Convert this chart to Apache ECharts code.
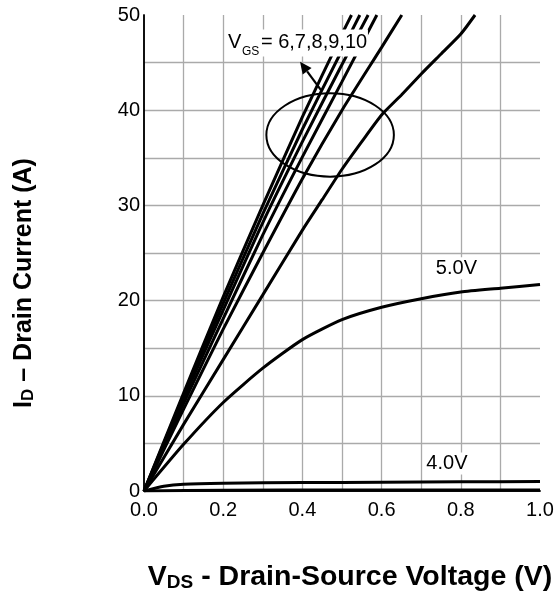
<!DOCTYPE html>
<html><head><meta charset="utf-8">
<script src="https://cdn.jsdelivr.net/npm/echarts@6/dist/echarts.min.js"></script>
<style>html,body{margin:0;padding:0;background:#fff}#c{width:559px;height:593px}</style>
</head><body><div id="c"></div>
<script>
// ---- data ----
const xTickValues = [0, 0.2, 0.4, 0.6, 0.8, 1.0];
const yTickValues = [0, 10, 20, 30, 40, 50];

const vgs10_vds = [0, 0.1, 0.2, 0.3, 0.4, 0.5, 0.524];
const vgs10_id  = [0, 10.3, 20.4, 30.0, 39.3, 48.0, 50];
const vgs9_vds  = [0, 0.1, 0.2, 0.3, 0.4, 0.5, 0.545];
const vgs9_id   = [0, 10.0, 19.7, 29.1, 38.0, 46.3, 50];
const vgs8_vds  = [0, 0.1, 0.2, 0.3, 0.4, 0.5, 0.566];
const vgs8_id   = [0, 9.7, 19.0, 28.2, 36.7, 44.8, 50];
const vgs7_vds  = [0, 0.1, 0.2, 0.3, 0.4, 0.5, 0.588];
const vgs7_id   = [0, 9.2, 18.1, 26.9, 35.1, 43.0, 50];
const vgs6_vds  = [0, 0.1, 0.2, 0.3, 0.4, 0.5, 0.6, 0.651];
const vgs6_id   = [0, 8.6, 17.0, 25.0, 32.8, 40.0, 46.6, 50];
const vgsMid_vds = [0, 0.1, 0.2, 0.3, 0.4, 0.45, 0.5, 0.55, 0.6, 0.65, 0.7, 0.75, 0.8, 0.836];
const vgsMid_id  = [0, 7.0, 13.8, 20.6, 27.4, 30.6, 33.8, 36.7, 39.5, 41.6, 43.8, 45.9, 48.0, 50];
const vgs5_vds  = [0, 0.1, 0.2, 0.3, 0.4, 0.5, 0.6, 0.7, 0.8, 0.9, 1.0];
const vgs5_id   = [0, 4.9, 9.3, 12.9, 15.9, 18.0, 19.3, 20.2, 20.9, 21.3, 21.7];
const vgs4_vds  = [0, 0.05, 0.1, 0.2, 0.4, 0.6, 0.8, 1.0];
const vgs4_id   = [0, 0.5, 0.72, 0.82, 0.88, 0.93, 0.97, 1.0];
const vgs3_vds  = [0, 0.2, 0.5, 1.0];
const vgs3_id   = [0, 0.08, 0.1, 0.1];

// annotation anchors (data coordinates)
const ann = {
  ellipse: { cx: 0.470, cy: 37.4, rx: 0.161, ry: 4.38 },
  arrowTail: [0.447, 42.1], arrowHead: [0.394, 45.1],
  vgsLabel: [0.212, 47.1],
  label5V: [0.789, 23.4], label4V: [0.765, 2.9]
};

const zip = (xs, ys) => xs.map((x, i) => [x, ys[i]]);
const curves = [
  ['10V', vgs10_vds, vgs10_id], ['9V', vgs9_vds, vgs9_id], ['8V', vgs8_vds, vgs8_id],
  ['7V', vgs7_vds, vgs7_id], ['6V', vgs6_vds, vgs6_id], ['mid', vgsMid_vds, vgsMid_id],
  ['5V', vgs5_vds, vgs5_id], ['4V', vgs4_vds, vgs4_id], ['3V', vgs3_vds, vgs3_id]
];

const FONT = 'Liberation Sans, Arial, sans-serif';
const chart = echarts.init(document.getElementById('c'), null, { renderer: 'canvas' });
const near = (v, arr) => arr.some(t => Math.abs(t - v) < 1e-6);

chart.setOption({
  animation: false,
  backgroundColor: '#fff',
  grid: { left: 144, right: 19, top: 15, bottom: 102, show: false },
  xAxis: [{
    type: 'value', min: 0, max: 1, interval: 0.1,
    axisLine: { show: true, lineStyle: { color: '#000', width: 1.5 } },
    axisTick: { show: false },
    axisLabel: { color: '#000', fontFamily: FONT, fontSize: 20, margin: 9,
      formatter: v => near(v, xTickValues) ? v.toFixed(1) : '' },
    splitLine: { show: true, showMinLine: false, showMaxLine: false, lineStyle: { color: '#aaa', width: 1.3 } }
  }, {
    type: 'value', min: 0, max: 1, position: 'top',
    axisLine: { show: true, lineStyle: { color: '#000', width: 1.5 } },
    axisTick: { show: false }, axisLabel: { show: false }, splitLine: { show: false }
  }],
  yAxis: [{
    type: 'value', min: 0, max: 50, interval: 5,
    axisLine: { show: true, lineStyle: { color: '#000', width: 1.5 } },
    axisTick: { show: false },
    axisLabel: { color: '#000', fontFamily: FONT, fontSize: 20, margin: 4,
      formatter: v => near(v, yTickValues) ? String(v) : '' },
    splitLine: { show: true, showMinLine: false, showMaxLine: false, lineStyle: { color: '#aaa', width: 1.3 } }
  }, {
    type: 'value', min: 0, max: 50, position: 'right',
    axisLine: { show: true, lineStyle: { color: '#000', width: 1.5 } },
    axisTick: { show: false }, axisLabel: { show: false }, splitLine: { show: false }
  }],
  series: curves.map(([name, xs, ys]) => ({
    name, type: 'line', data: zip(xs, ys), showSymbol: false, smooth: 0.2,
    clip: true, lineStyle: { color: '#000', width: 3 }, z: 5
  }))
});

// ---- annotations ----
const px = p => chart.convertToPixel({ gridIndex: 0 }, p);
const e = ann.ellipse;
const c0 = px([e.cx, e.cy]);
const cx1 = px([e.cx + e.rx, e.cy]);
const cy1 = px([e.cx, e.cy + e.ry]);
const tail = px(ann.arrowTail), head = px(ann.arrowHead);
const ang = Math.atan2(head[1] - tail[1], head[0] - tail[0]);
const L = 12, W = 5.5;
const base = [head[0] - L * Math.cos(ang), head[1] - L * Math.sin(ang)];
const arrowPts = [head,
  [base[0] + W * Math.sin(ang), base[1] - W * Math.cos(ang)],
  [base[0] - W * Math.sin(ang), base[1] + W * Math.cos(ang)]];
const vg = px(ann.vgsLabel), l5 = px(ann.label5V), l4 = px(ann.label4V);
const txt = (s, size) => ({ text: s, font: size + 'px ' + FONT, fill: '#000',
  align: 'left', verticalAlign: 'middle', textAlign: 'left', textVerticalAlign: 'middle' });

chart.setOption({
  graphic: { elements: [
    { type: 'ellipse', z: 100, shape: { cx: c0[0], cy: c0[1], rx: cx1[0] - c0[0], ry: c0[1] - cy1[1] },
      style: { fill: 'none', stroke: '#000', lineWidth: 2 } },
    { type: 'line', z: 100, shape: { x1: tail[0], y1: tail[1], x2: base[0], y2: base[1] },
      style: { stroke: '#000', lineWidth: 2.2 } },
    { type: 'polygon', z: 100, shape: { points: arrowPts }, style: { fill: '#000' } },
    { type: 'rect', z: 101, shape: { x: vg[0] - 3, y: vg[1] - 13, width: 143, height: 27 }, style: { fill: '#fff' } },
    { type: 'text', z: 102, x: vg[0], y: vg[1], style: txt('V', 20) },
    { type: 'text', z: 102, x: vg[0] + 14, y: vg[1] + 9, style: txt('GS', 12) },
    { type: 'text', z: 102, x: vg[0] + 33, y: vg[1], style: txt('= 6,7,8,9,10', 20) },
    { type: 'text', z: 102, x: l5[0], y: l5[1], style: { text: '5.0V', font: '20px ' + FONT, fill: '#000',
      align: 'center', verticalAlign: 'middle', textAlign: 'center', textVerticalAlign: 'middle',
      backgroundColor: '#fff', padding: [1, 2, 1, 2] } },
    { type: 'text', z: 102, x: l4[0], y: l4[1], style: { text: '4.0V', font: '20px ' + FONT, fill: '#000',
      align: 'center', verticalAlign: 'middle', textAlign: 'center', textVerticalAlign: 'middle',
      backgroundColor: '#fff', padding: [1, 2, 1, 2] } },
    { type: 'text', z: 102, x: 350, y: 576, style: {
      text: '{m|V}{s|DS}{m| - Drain-Source Voltage (V)}', align: 'center', verticalAlign: 'middle',
      textAlign: 'center', textVerticalAlign: 'middle',
      rich: { m: { font: 'bold 28.5px ' + FONT, fill: '#000', lineHeight: 32, verticalAlign: 'bottom' },
              s: { font: 'bold 19px ' + FONT, fill: '#000', lineHeight: 32, verticalAlign: 'bottom' } } } },
    { type: 'text', z: 102, x: 22, y: 283, rotation: Math.PI / 2, style: {
      text: '{m|I}{s|D}{m| – Drain Current (A)}', align: 'center', verticalAlign: 'middle',
      textAlign: 'center', textVerticalAlign: 'middle',
      rich: { m: { font: 'bold 25px ' + FONT, fill: '#000', lineHeight: 30, verticalAlign: 'bottom' },
              s: { font: 'bold 17px ' + FONT, fill: '#000', lineHeight: 30, verticalAlign: 'bottom' } } } }
  ] }
});
</script></body></html>
